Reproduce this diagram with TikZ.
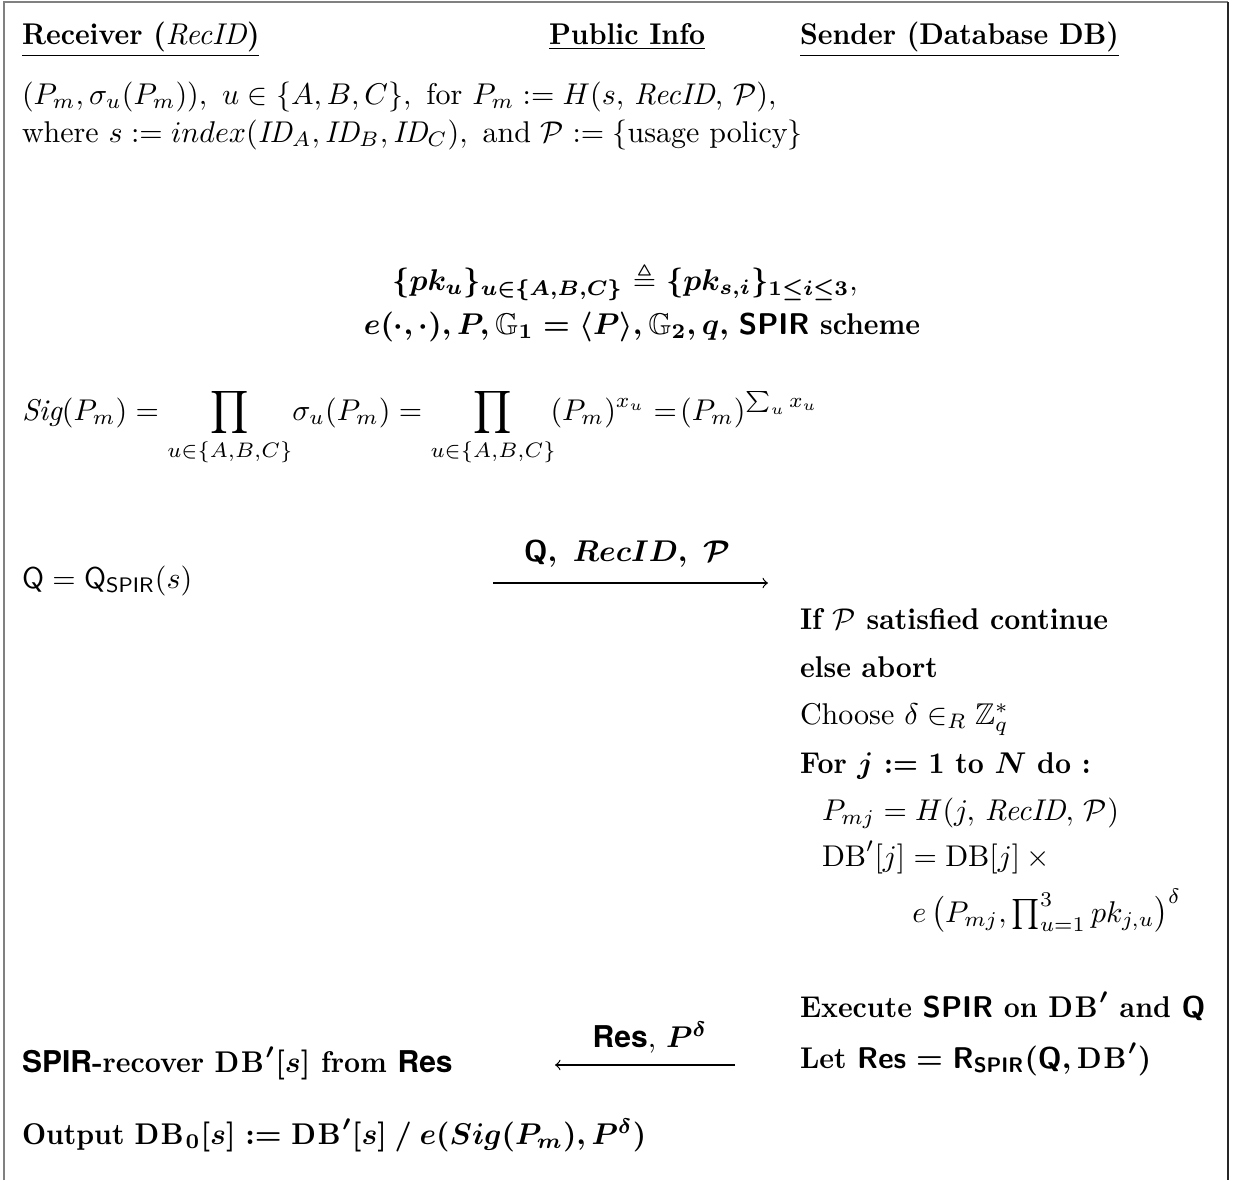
\documentclass[tikz,border=0pt]{standalone}
\usepackage{amsmath,amssymb}
\usepackage{fontspec}
\setmainfont{lmroman10}[Extension=.otf, UprightFont=*-regular, BoldFont=*-bold,
  ItalicFont=*-italic, BoldItalicFont=*-bolditalic,
  BoldFeatures={FakeStretch=0.93}, BoldItalicFeatures={FakeStretch=0.93}]
\newfontfamily\hvfont{TeX Gyre Heros}
\newcommand{\hv}[1]{{\hvfont\bfseries #1}}
\tikzset{txt/.style={inner sep=0pt, outer sep=0pt, anchor=base west},
  ctr/.style={inner sep=0pt, outer sep=0pt, anchor=base},
  msg/.style={line width=0.4pt, -to}}
\begin{document}
\begin{tikzpicture}[x=0.33333pt,y=-0.33333pt]
\useasboundingbox (0,0) rectangle (1233,1180);
\draw[gray, line width=0.4pt] (4,1180) -- (4,2) -- (1228,2);
\draw[black!85, line width=0.5pt] (1228,2) -- (1228,1180);
% headers
\node[txt] (rec) at (22,44) {\textbf{\underline{Receiver (\textmd{\textit{RecID}})}}};
\node[txt] (pub) at (549,44) {\textbf{\underline{Public Info}}};
\node[txt] (snd) at (800,44) {\textbf{\underline{Sender (Database DB)}}};
% receiver setup
\node[txt] (l1) at (22,104) {$(P_m,\sigma_u(P_m)),\ u\in\{A,B,C\},\ \text{for } P_m := H(s,\,\textit{RecID},\,\mathcal{P}),$};
\node[txt] (l2) at (22,142) {where $s := index(\textit{ID}_A,\textit{ID}_B,\textit{ID}_C),\ \text{and } \mathcal{P} := \{\text{usage policy}\}$};
% public info
\node[ctr] (pk) at (625,290) {{\boldmath$\{pk_u\}_{u\in\{A,B,C\}}$} $\triangleq$ {\boldmath$\{pk_{s,i}\}_{1\le i\le 3}$},};
\node[ctr] (grp) at (642,334) {{\boldmath$e(\cdot,\cdot), P, \mathbb{G}_1 = \langle P\rangle, \mathbb{G}_2, q,$}\ \textbf{\textsf{SPIR} scheme}};
% signature
\node[txt] (sig) at (22,420) {$\textit{Sig}(P_m) = \displaystyle\prod_{u\in\{A,B,C\}}\!\sigma_u(P_m) = \prod_{u\in\{A,B,C\}}\!(P_m)^{x_u} =\!(P_m)^{\sum_u x_u}$};
% query
\node[txt] (q) at (22,588) {$\mathsf{Q} = \mathsf{Q}_{\mathsf{SPIR}}(s)$};
\coordinate (a1s) at (493,583);
\coordinate (a1e) at (768,583);
\draw[msg] (a1s) -- (a1e);
\node[ctr] (a1l) at (627,561) {{\boldmath$\mathsf{Q},\ RecID,\ \mathcal{P}$}};
% sender
\node[txt] (c1) at (800,629) {\textbf{If $\mathcal{P}$ satisfied continue}};
\node[txt] (c2) at (800,677) {\textbf{else abort}};
\node[txt] (c3) at (800,724) {Choose $\delta\in_R\mathbb{Z}_q^*$};
\node[txt] (c4) at (800,773) {\textbf{For {\boldmath$j$} := 1 to {\boldmath$N$} do :}};
\node[txt] (c5) at (822,820) {$P_{mj} = H(j,\,\textit{RecID},\,\mathcal{P})$};
\node[txt] (c6) at (822,866) {$\mathrm{DB}'[j] = \mathrm{DB}[j]\times{}$};
\node[anchor=base east, inner sep=0pt] (c7) at (1182,922) {$e\,\bigl(P_{mj},\prod_{u=1}^{3} pk_{j,u}\bigr)^{\delta}$};
\node[txt] (c8) at (800,1017) {\textbf{Execute \textsf{SPIR} on {\boldmath$\mathrm{DB}'$} and \textsf{Q}}};
\node[txt] (c9) at (800,1068) {\textbf{Let \textsf{Res}} {\boldmath$= \mathsf{R}_{\mathsf{SPIR}}(\mathsf{Q},\mathrm{DB}')$}};
% response
\coordinate (a2s) at (735,1065);
\coordinate (a2e) at (555,1065);
\draw[msg] (a2s) -- (a2e);
\node[ctr] (a2l) at (650,1047) {\hv{Res}, {\boldmath$P^{\delta}$}};
\node[txt] (rcv) at (22,1072) {\hv{SPIR}\textbf{-recover {\boldmath$\mathrm{DB}'[s]$} from }\hv{Res}};
\node[txt] (out) at (22,1144) {\textbf{Output} {\boldmath$\mathrm{DB}_0[s] := \mathrm{DB}'[s] \mathbin{/} e(Sig(P_m),P^{\delta})$}};
\end{tikzpicture}
\end{document}
